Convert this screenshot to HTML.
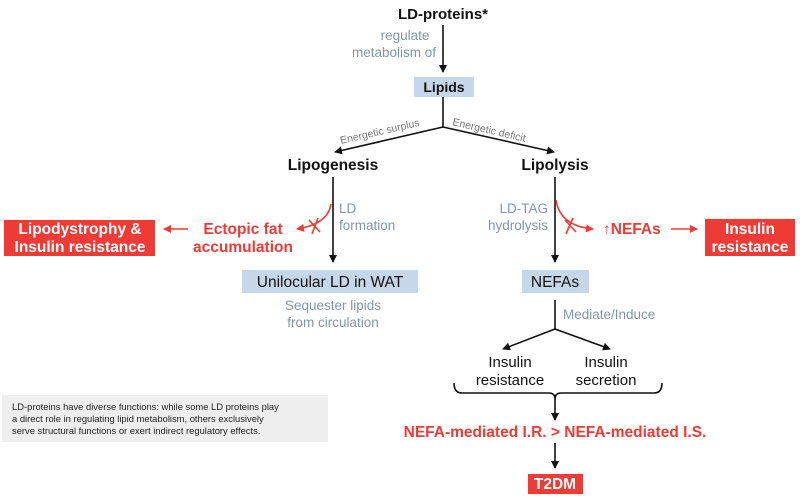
<!DOCTYPE html>
<html><head><meta charset="utf-8"><style>
body{margin:0;background:#fff;width:800px;height:497px;overflow:hidden}
svg{display:block}
text{font-family:"Liberation Sans",sans-serif}
.b{font-weight:bold;fill:#111}
.g{fill:#7f98a8;font-size:13.5px}
.r{fill:#ef3b36;font-size:15.5px;font-weight:bold}
.w{fill:#fff;font-size:15.5px;font-weight:bold}
</style></head><body>
<svg width="800" height="497" viewBox="0 0 800 497">
<defs>
<marker id="ak" markerWidth="8" markerHeight="8" refX="7" refY="4" orient="auto" markerUnits="userSpaceOnUse"><path d="M0,0 L8,4 L0,8 z" fill="#111"/></marker>
<marker id="ar" markerWidth="8" markerHeight="8" refX="7" refY="4" orient="auto" markerUnits="userSpaceOnUse"><path d="M0,0 L8,4 L0,8 z" fill="#ef3b36"/></marker>
</defs>
<g stroke="#111" stroke-width="1.6" fill="none">
<line x1="443" y1="25" x2="443" y2="72" marker-end="url(#ak)"/>
<polyline points="443,97 443,127"/>
<line x1="443" y1="127" x2="335" y2="152" marker-end="url(#ak)"/>
<line x1="443" y1="127" x2="554" y2="152" marker-end="url(#ak)"/>
<line x1="333" y1="177" x2="333" y2="262" marker-end="url(#ak)"/>
<line x1="555" y1="177" x2="555" y2="262" marker-end="url(#ak)"/>
<polyline points="555,300 555,329"/>
<line x1="555" y1="329" x2="503" y2="349" marker-end="url(#ak)"/>
<line x1="555" y1="329" x2="610" y2="349" marker-end="url(#ak)"/>
<path d="M454,383 Q454,393 462,393 L549,393 Q555,393 555,399 Q555,393 561,393 L654,393 Q662,393 662,383"/>
<line x1="555" y1="399" x2="555" y2="420" marker-end="url(#ak)"/>
<line x1="555" y1="443" x2="555" y2="468" marker-end="url(#ak)"/>
</g>
<g stroke="#ef3b36" stroke-width="1.6" fill="none">
<path d="M331,204 Q328,224 297,229" marker-end="url(#ar)"/>
<line x1="309" y1="220" x2="320" y2="232"/><line x1="318" y1="218" x2="312" y2="234"/>
<line x1="188" y1="229" x2="164" y2="229" marker-end="url(#ar)"/>
<path d="M556,200 Q560,226 593,229" marker-end="url(#ar)"/>
<line x1="565" y1="220" x2="576" y2="232"/><line x1="573" y1="218" x2="566" y2="234"/>
<line x1="671" y1="229" x2="697" y2="229" marker-end="url(#ar)"/>
</g>
<text x="443" y="19" class="b" font-size="15" text-anchor="middle">LD-proteins*</text>
<text x="405" y="40" class="g" text-anchor="middle">regulate</text>
<text x="436" y="57" class="g" text-anchor="end">metabolism of</text>
<rect x="414" y="77" width="60" height="20" fill="#c5d7e8"/>
<text x="444" y="92" class="b" font-size="14" text-anchor="middle">Lipids</text>
<text transform="translate(341,144) rotate(-13)" font-size="10.5" fill="#777">Energetic surplus</text>
<text transform="translate(452,125) rotate(13)" font-size="10.5" fill="#777">Energetic deficit</text>
<text x="333" y="170" class="b" font-size="15.5" text-anchor="middle">Lipogenesis</text>
<text x="555" y="170" class="b" font-size="15.5" text-anchor="middle">Lipolysis</text>
<text x="339" y="213" class="g">LD</text>
<text x="339" y="230" class="g">formation</text>
<text x="548" y="213" class="g" text-anchor="end">LD-TAG</text>
<text x="548" y="230" class="g" text-anchor="end">hydrolysis</text>
<text x="243" y="234" class="r" text-anchor="middle">Ectopic fat</text>
<text x="243" y="252" class="r" text-anchor="middle">accumulation</text>
<rect x="4" y="220" width="151" height="36" fill="#ef3b36"/>
<text x="80" y="234" class="w" text-anchor="middle">Lipodystrophy &amp;</text>
<text x="80" y="252" class="w" text-anchor="middle">Insulin resistance</text>
<text x="603" y="234" class="r">↑NEFAs</text>
<rect x="705" y="219" width="90" height="37" fill="#ef3b36"/>
<text x="750" y="234" class="w" text-anchor="middle">Insulin</text>
<text x="750" y="252" class="w" text-anchor="middle">resistance</text>
<rect x="242" y="270" width="176" height="23" fill="#c5d7e8"/>
<text x="330" y="287" font-size="15.5" fill="#111" text-anchor="middle">Unilocular LD in WAT</text>
<text x="333" y="310" class="g" text-anchor="middle">Sequester lipids</text>
<text x="333" y="327" class="g" text-anchor="middle">from circulation</text>
<rect x="522" y="270" width="67" height="23" fill="#c5d7e8"/>
<text x="555" y="287" font-size="15.5" fill="#111" text-anchor="middle">NEFAs</text>
<text x="563" y="319" class="g">Mediate/Induce</text>
<text x="510" y="367" font-size="15" fill="#111" text-anchor="middle">Insulin</text>
<text x="510" y="385" font-size="15" fill="#111" text-anchor="middle">resistance</text>
<text x="606" y="367" font-size="15" fill="#111" text-anchor="middle">Insulin</text>
<text x="606" y="385" font-size="15" fill="#111" text-anchor="middle">secretion</text>
<text x="555" y="437" class="r" text-anchor="middle">NEFA-mediated I.R. &gt; NEFA-mediated I.S.</text>
<rect x="528" y="474" width="55" height="20" fill="#ef3b36"/>
<text x="555" y="489" class="w" font-size="14" text-anchor="middle">T2DM</text>
<rect x="2" y="395" width="326" height="47" fill="#eeeeee"/>
<text x="12" y="410" font-size="9.4" fill="#222">LD-proteins have diverse functions: while some LD proteins play</text>
<text x="12" y="422" font-size="9.4" fill="#222">a direct role in regulating lipid metabolism, others exclusively</text>
<text x="12" y="434" font-size="9.4" fill="#222">serve structural functions or exert indirect regulatory effects.</text>
</svg>
</body></html>
